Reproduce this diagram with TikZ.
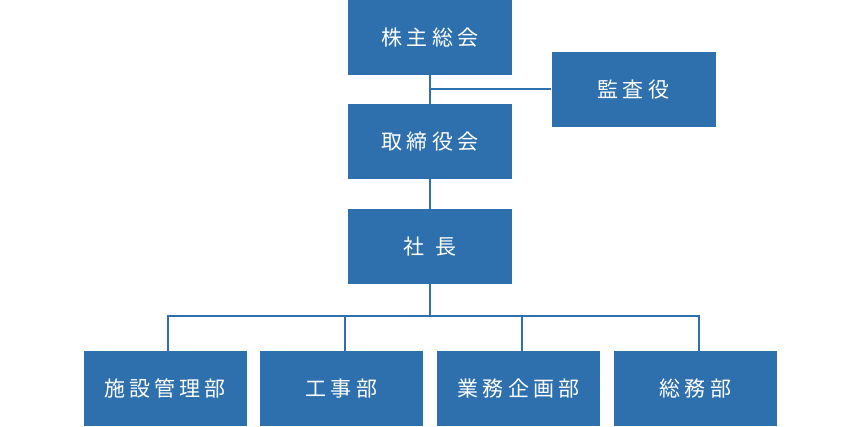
\documentclass[tikz,border=0pt]{standalone}
\usepackage{fontspec}
\newfontfamily\jpfont[LetterSpace=20]{Noto Sans CJK JP}
\definecolor{orgblue}{HTML}{2E70AE}

\begin{document}
\begin{tikzpicture}[
  x=1pt, y=-1pt,
  every node/.style={inner sep=0pt},
  unit/.style={rectangle, fill=orgblue, text=white, minimum width=164pt,
    minimum height=75pt, font=\jpfont\fontsize{21pt}{24pt}\selectfont},
  dept/.style={unit, minimum width=163pt},
  link/.style={draw=orgblue, line width=2pt}]

  \useasboundingbox (0,0) rectangle (860,427);

  % vertices
  \node[unit] (kabu)  at (430.0,37.5)  {株主総会};
  \node[unit] (kansa) at (633.5,89.5)  {監査役};
  \node[unit] (tori)  at (430.0,141.5) {取締役会};
  \node[unit] (shach) at (430.0,246.5) {社\hspace{12pt}長};

  \node[dept] (shise) at (165.0,388.5) {施設管理部};
  \node[dept] (kouji) at (341.5,388.5) {工事部};
  \node[dept] (gyomu) at (518.5,388.5) {業務企画部};
  \node[dept] (somu)  at (695.5,388.5) {総務部};

  \coordinate (bus) at (430,316);

  % connectors
  \draw[link] (kabu) -- (tori);
  \draw[link] (kansa.west) -- (kansa.west -| kabu.south);
  \draw[link] (tori) -- (shach);
  \draw[link] (shach.south) -- (bus);
  \foreach \d in {shise,kouji,gyomu,somu}
    \draw[link] (bus) -| ([xshift=3pt]\d.north);
\end{tikzpicture}
\end{document}
